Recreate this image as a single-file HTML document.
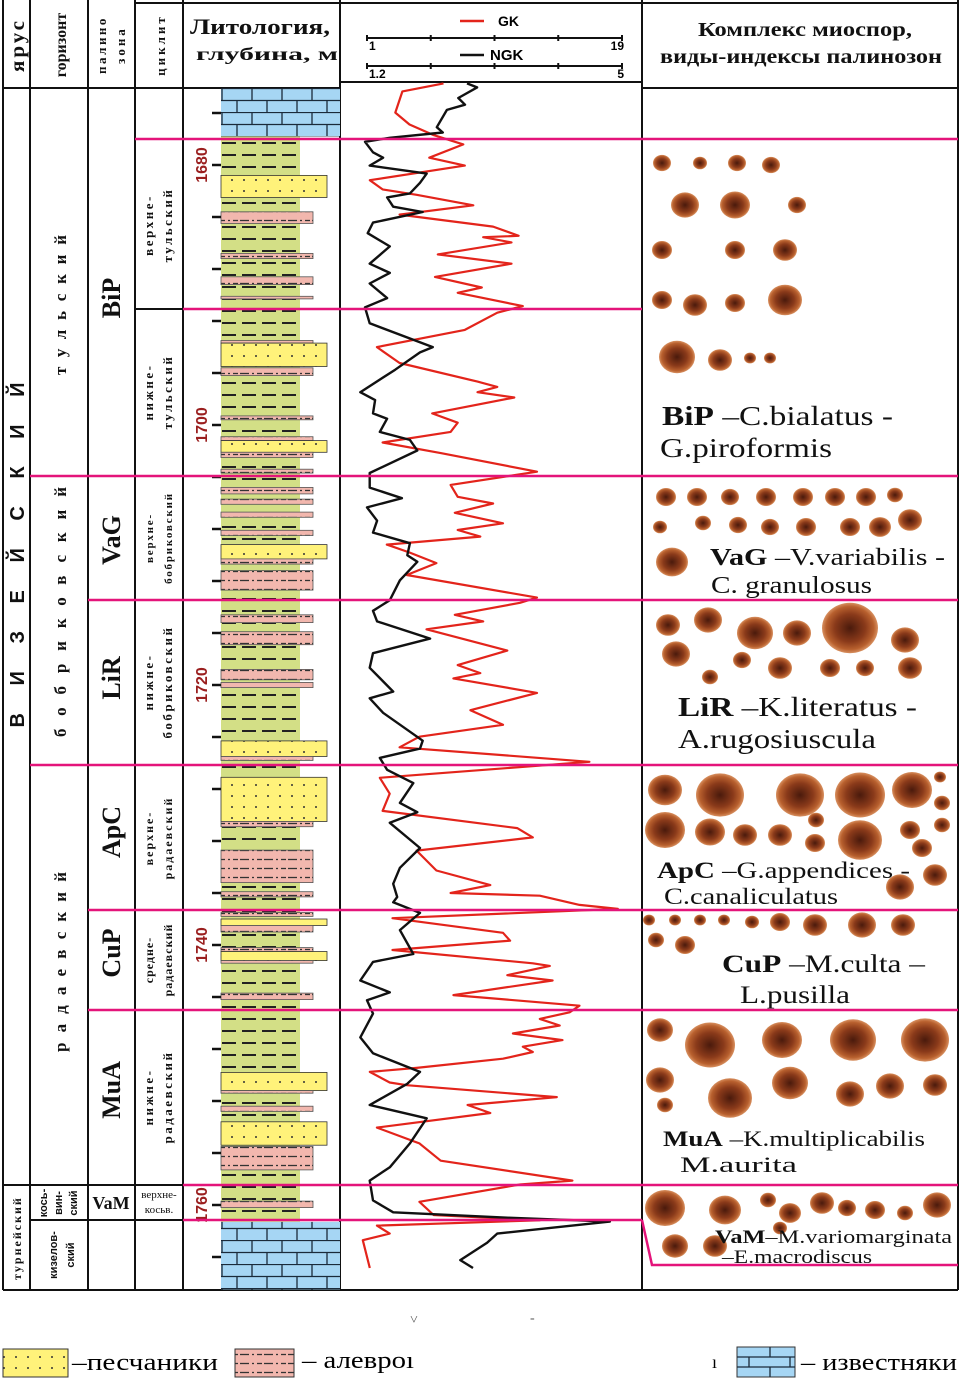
<!DOCTYPE html>
<html><head><meta charset="utf-8"><style>
html,body{margin:0;padding:0;background:#fff;}
svg{display:block;font-family:"Liberation Serif","DejaVu Serif",serif;}
.sans{font-family:"Liberation Sans","DejaVu Sans",sans-serif;}
</style></head><body>
<svg id="chart" width="960" height="1380" viewBox="0 0 960 1380" xmlns="http://www.w3.org/2000/svg">
<defs>
<pattern id="pShale" width="20" height="12" patternUnits="userSpaceOnUse" x="221" y="137">
<rect width="20" height="12" fill="#d3df86"/>
<line x1="1" y1="6" x2="15" y2="6" stroke="#222" stroke-width="2"/>
</pattern>
<pattern id="pSand" width="12" height="11" patternUnits="userSpaceOnUse">
<rect width="12" height="11" fill="#fff27a"/>
<circle cx="4" cy="4" r="1" fill="#333"/>
</pattern>
<pattern id="pSilt" width="24" height="9" patternUnits="userSpaceOnUse">
<rect width="24" height="9" fill="#f2b7ae"/>
<line x1="0" y1="4.5" x2="9" y2="4.5" stroke="#333" stroke-width="1.3"/>
<line x1="12" y1="4.5" x2="14" y2="4.5" stroke="#333" stroke-width="1.3"/>
<line x1="17" y1="4.5" x2="22" y2="4.5" stroke="#333" stroke-width="1.3"/>
</pattern>
<pattern id="pLime" width="60" height="24" patternUnits="userSpaceOnUse" x="221" y="88">
<rect width="60" height="24" fill="#a6d6f4"/>
<line x1="0" y1="0.5" x2="60" y2="0.5" stroke="#1a2a3a" stroke-width="1.3"/>
<line x1="0" y1="12.5" x2="60" y2="12.5" stroke="#1a2a3a" stroke-width="1.3"/>
<line x1="1" y1="0" x2="1" y2="12" stroke="#1a2a3a" stroke-width="1.3"/>
<line x1="31" y1="0" x2="31" y2="12" stroke="#1a2a3a" stroke-width="1.3"/>
<line x1="16" y1="12" x2="16" y2="24" stroke="#1a2a3a" stroke-width="1.3"/>
<line x1="46" y1="12" x2="46" y2="24" stroke="#1a2a3a" stroke-width="1.3"/>
</pattern>
<radialGradient id="gSpore" cx="50%" cy="50%" r="50%">
<stop offset="0" stop-color="#4a1a0c"/>
<stop offset="0.55" stop-color="#8a3a1a"/>
<stop offset="0.85" stop-color="#b8602e"/>
<stop offset="1" stop-color="#d89060"/>
</radialGradient>
</defs>

<g id="grid" stroke="#111" stroke-width="2" fill="none">
<line x1="3" y1="0" x2="3" y2="1290"/>
<line x1="30" y1="0" x2="30" y2="1290"/>
<line x1="88" y1="0" x2="88" y2="1290"/>
<line x1="135" y1="0" x2="135" y2="1290"/>
<line x1="183" y1="0" x2="183" y2="1290"/>
<line x1="340" y1="0" x2="340" y2="1290"/>
<line x1="642" y1="0" x2="642" y2="1290"/>
<line x1="958" y1="0" x2="958" y2="1290"/>
<line x1="135" y1="3" x2="958" y2="3"/>
<line x1="3" y1="88" x2="340" y2="88"/>
<line x1="340" y1="82" x2="642" y2="82"/>
<line x1="642" y1="88" x2="958" y2="88"/>
<line x1="3" y1="1290" x2="958" y2="1290"/>
<line x1="30" y1="476" x2="88" y2="476"/>
<line x1="30" y1="765" x2="88" y2="765"/>
<line x1="88" y1="600" x2="135" y2="600"/>
<line x1="88" y1="910" x2="135" y2="910"/>
<line x1="88" y1="1010" x2="135" y2="1010"/>
<line x1="135" y1="139" x2="183" y2="139"/>
<line x1="135" y1="309" x2="183" y2="309"/>
<line x1="135" y1="476" x2="183" y2="476"/>
<line x1="135" y1="600" x2="183" y2="600"/>
<line x1="135" y1="765" x2="183" y2="765"/>
<line x1="135" y1="910" x2="183" y2="910"/>
<line x1="135" y1="1010" x2="183" y2="1010"/>
<line x1="3" y1="1185" x2="183" y2="1185"/>
<line x1="30" y1="1220" x2="183" y2="1220"/>
<line x1="88" y1="476" x2="135" y2="476"/>
<line x1="88" y1="765" x2="135" y2="765"/>
</g>

<g font-weight="bold" fill="#111">
<text x="24" y="45" font-size="21" text-anchor="middle" transform="rotate(-90 24 45)" letter-spacing="3">ярус</text>
<text x="66" y="45" font-size="16" text-anchor="middle" transform="rotate(-90 66 45)">горизонт</text>
<text x="106" y="45" font-size="13" text-anchor="middle" transform="rotate(-90 106 45)" letter-spacing="2.5">палино</text>
<text x="125" y="45" font-size="13" text-anchor="middle" transform="rotate(-90 125 45)" letter-spacing="3">зона</text>
<text x="165" y="45" font-size="13" text-anchor="middle" transform="rotate(-90 165 45)" letter-spacing="3">циклит</text>
<text x="190" y="34" font-size="22" textLength="140" lengthAdjust="spacingAndGlyphs">Литология,</text>
<text x="196" y="60" font-size="18" textLength="142" lengthAdjust="spacingAndGlyphs">глубина, м</text>
<text x="698" y="36" font-size="20" textLength="214" lengthAdjust="spacingAndGlyphs">Комплекс миоспор,</text>
<text x="660" y="63" font-size="20" textLength="282" lengthAdjust="spacingAndGlyphs">виды-индексы палинозон</text>
</g>

<g>
<line x1="460" y1="21" x2="484" y2="21" stroke="#e3241b" stroke-width="2.5"/>
<text class="sans" x="498" y="26" font-size="14" font-weight="bold">GK</text>
<line x1="460" y1="55" x2="484" y2="55" stroke="#111" stroke-width="2.5"/>
<text class="sans" x="490" y="60" font-size="15" font-weight="bold">NGK</text>
<g id="gkAxis"></g>
<g id="ngkAxis"></g>
</g>

<g id="litho"></g>
<g id="depthAxis"></g>
<g id="curves"></g>
<g id="spores"></g>

<g stroke="#e4147a" stroke-width="2.5" fill="none">
<line x1="135" y1="139" x2="958" y2="139"/>
<line x1="183" y1="309" x2="642" y2="309"/>
<line x1="30" y1="476" x2="958" y2="476"/>
<line x1="88" y1="600" x2="958" y2="600"/>
<line x1="30" y1="765" x2="958" y2="765"/>
<line x1="88" y1="910" x2="958" y2="910"/>
<line x1="88" y1="1010" x2="958" y2="1010"/>
<line x1="183" y1="1185" x2="958" y2="1185"/>
<line x1="183" y1="1220" x2="642" y2="1220"/>
<polyline points="642,1220 652,1265 958,1265"/>
</g>

<g font-weight="bold" fill="#111">
<text class="sans" x="24" y="555" font-size="20" text-anchor="middle" transform="rotate(-90 24 555)" textLength="345" lengthAdjust="spacing">ВИЗЕЙСКИЙ</text>
<text x="21" y="1238" font-size="12" text-anchor="middle" transform="rotate(-90 21 1238)" letter-spacing="2">турнейский</text>
<text x="66" y="305" font-size="17" text-anchor="middle" transform="rotate(-90 66 305)" textLength="140" lengthAdjust="spacing">тульский</text>
<text x="66" y="612" font-size="17" text-anchor="middle" transform="rotate(-90 66 612)" textLength="250" lengthAdjust="spacing">бобриковский</text>
<text x="66" y="962" font-size="17" text-anchor="middle" transform="rotate(-90 66 962)" textLength="180" lengthAdjust="spacing">радаевский</text>
<g class="sans" font-size="11" text-anchor="middle">
<text transform="rotate(-90 47 1203)" x="47" y="1203">кось-</text>
<text transform="rotate(-90 62 1203)" x="62" y="1203">вин-</text>
<text transform="rotate(-90 77 1203)" x="77" y="1203">ский</text>
<text transform="rotate(-90 57 1255)" x="57" y="1255">кизелов-</text>
<text transform="rotate(-90 74 1255)" x="74" y="1255">ский</text>
</g>
</g>

<g font-weight="bold" font-size="26" fill="#111" text-anchor="middle">
<text x="120" y="298" transform="rotate(-90 120 298)">BiP</text>
<text x="120" y="540" transform="rotate(-90 120 540)">VaG</text>
<text x="120" y="678" transform="rotate(-90 120 678)">LiR</text>
<text x="120" y="832" transform="rotate(-90 120 832)">ApC</text>
<text x="120" y="953" transform="rotate(-90 120 953)">CuP</text>
<text x="120" y="1090" transform="rotate(-90 120 1090)">MuA</text>
<text x="111" y="1209" font-size="18">VaM</text>
</g>

<g font-weight="bold" font-size="13" fill="#111" text-anchor="middle" letter-spacing="2.5">
<text x="153" y="225" transform="rotate(-90 153 225)">верхне-</text>
<text x="172" y="225" transform="rotate(-90 172 225)">тульский</text>
<text x="153" y="392" transform="rotate(-90 153 392)">нижне-</text>
<text x="172" y="392" transform="rotate(-90 172 392)">тульский</text>
<g font-size="11" letter-spacing="1.8">
<text x="153" y="538" transform="rotate(-90 153 538)">верхне-</text>
<text x="172" y="538" transform="rotate(-90 172 538)">бобриковский</text>
</g>
<text x="153" y="682" transform="rotate(-90 153 682)">нижне-</text>
<text x="172" y="682" transform="rotate(-90 172 682)">бобриковский</text>
<g font-size="12" letter-spacing="2">
<text x="153" y="838" transform="rotate(-90 153 838)">верхне-</text>
<text x="172" y="838" transform="rotate(-90 172 838)">радаевский</text>
<text x="153" y="960" transform="rotate(-90 153 960)" letter-spacing="1">средне-</text>
<text x="172" y="960" transform="rotate(-90 172 960)" letter-spacing="1">радаевский</text>
</g>
<text x="153" y="1097" transform="rotate(-90 153 1097)">нижне-</text>
<text x="172" y="1097" transform="rotate(-90 172 1097)">радаевский</text>
<g font-size="11" letter-spacing="0" font-weight="normal">
<text x="159" y="1198">верхне-</text>
<text x="159" y="1213">косьв.</text>
</g>
</g>

<g fill="#111">
<text x="662" y="425" font-size="27" textLength="231" lengthAdjust="spacingAndGlyphs"><tspan font-weight="bold">BiP</tspan> –C.bialatus -</text>
<text x="660" y="457" font-size="27" textLength="172" lengthAdjust="spacingAndGlyphs">G.piroformis</text>
<text x="710" y="565" font-size="24" textLength="235" lengthAdjust="spacingAndGlyphs"><tspan font-weight="bold">VaG</tspan> –V.variabilis -</text>
<text x="711" y="593" font-size="24" textLength="161" lengthAdjust="spacingAndGlyphs">C. granulosus</text>
<text x="678" y="716" font-size="27" textLength="239" lengthAdjust="spacingAndGlyphs"><tspan font-weight="bold">LiR</tspan> –K.literatus -</text>
<text x="678" y="748" font-size="27" textLength="198" lengthAdjust="spacingAndGlyphs">A.rugosiuscula</text>
<text x="657" y="878" font-size="23" textLength="253" lengthAdjust="spacingAndGlyphs"><tspan font-weight="bold">ApC</tspan> –G.appendices -</text>
<text x="664" y="904" font-size="23" textLength="174" lengthAdjust="spacingAndGlyphs">C.canaliculatus</text>
<text x="722" y="972" font-size="25" textLength="203" lengthAdjust="spacingAndGlyphs"><tspan font-weight="bold">CuP</tspan> –M.culta –</text>
<text x="740" y="1003" font-size="25" textLength="110" lengthAdjust="spacingAndGlyphs">L.pusilla</text>
<text x="663" y="1146" font-size="22" textLength="262" lengthAdjust="spacingAndGlyphs"><tspan font-weight="bold">MuA</tspan> –K.multiplicabilis</text>
<text x="680" y="1172" font-size="22" textLength="117" lengthAdjust="spacingAndGlyphs">M.aurita</text>
<text x="715" y="1243" font-size="19" textLength="237" lengthAdjust="spacingAndGlyphs"><tspan font-weight="bold">VaM</tspan>–M.variomarginata</text>
<text x="722" y="1263" font-size="19" textLength="150" lengthAdjust="spacingAndGlyphs">–E.macrodiscus</text>
</g>

<g>
<rect x="3" y="1349" width="65" height="28" fill="url(#pSand)" stroke="#333"/>
<text x="72" y="1370" font-size="24" textLength="146" lengthAdjust="spacingAndGlyphs">–песчаники</text>
<rect x="235" y="1349" width="59" height="28" fill="url(#pSilt)" stroke="#333"/>
<text x="302" y="1368" font-size="24" textLength="112" lengthAdjust="spacingAndGlyphs">– алевро<tspan>ı</tspan></text>
<text x="712" y="1368" font-size="18">ı</text>
<rect x="737" y="1347" width="58" height="30" fill="#a6d6f4" stroke="#333"/>
<g stroke="#1a2a3a" stroke-width="1.3">
<line x1="737" y1="1357" x2="795" y2="1357"/><line x1="737" y1="1367" x2="795" y2="1367"/>
<line x1="770" y1="1347" x2="770" y2="1357"/><line x1="749" y1="1357" x2="749" y2="1367"/><line x1="790" y1="1357" x2="790" y2="1367"/><line x1="770" y1="1367" x2="770" y2="1377"/>
</g>
<text x="801" y="1370" font-size="24" textLength="156" lengthAdjust="spacingAndGlyphs">– известняки</text>
<text x="410" y="1324" font-size="14" fill="#555">˅</text>
<text x="530" y="1322" font-size="14" fill="#555">-</text>
</g>

<script>
// ---- data ----
const gkDepth = [1674.6,1675.2,1676.8,1677.7,1678.5,1678.9,1679.2,1680.2,1680.8,1681.9,1682.6,1683.0,1683.8,1684.5,1685.4,1686.1,1686.2,1686.6,1687.5,1688.2,1689.2,1690.0,1690.4,1691.4,1691.9,1693.2,1694.5,1695.7,1697.1,1697.5,1697.9,1698.3,1699.5,1700.2,1700.9,1701.7,1702.5,1703.9,1704.9,1705.8,1706.3,1707.0,1707.8,1708.3,1708.8,1709.4,1710.0,1710.8,1711.7,1713.4,1713.8,1714.7,1715.2,1715.8,1717.4,1718.5,1719.1,1719.5,1720.6,1721.9,1723.0,1723.9,1724.7,1725.8,1727.0,1728.2,1729.5,1730.8,1731.5,1732.5,1734.0,1735.1,1735.7,1735.9,1736.6,1736.9,1737.6,1738.7,1739.3,1740.0,1741.0,1741.2,1741.9,1742.3,1743.4,1744.2,1744.7,1745.2,1745.7,1746.3,1746.8,1747.3,1747.7,1748.2,1748.9,1749.2,1750.0,1750.2,1751.1,1751.7,1752.3,1753.4,1754.6,1755.9,1757.4,1757.7,1759.0,1760.0,1760.4,1760.8,1761.4,1761.9,1764.0];
const gkValues = [6.4,3.5,3.0,4.0,5.7,6.9,7.8,5.4,7.9,1.2,2.1,4.5,8.5,3.3,9.9,11.7,9.2,11.2,6.0,11.2,5.8,9.1,7.4,12.0,10.2,7.9,1.7,3.3,8.8,10.2,8.8,11.4,5.6,7.4,6.9,2.1,6.2,13.0,6.9,7.4,9.9,7.2,10.6,7.4,9.0,2.4,4.0,5.9,3.8,13.0,11.8,7.2,9.2,5.2,10.9,7.4,9.0,7.1,13.0,8.3,10.6,4.7,3.3,16.7,1.9,2.6,2.1,11.6,12.7,4.5,5.9,9.7,6.9,13.2,16.0,18.7,2.8,10.6,11.1,2.8,12.7,13.9,10.9,14.1,7.1,16.0,15.3,13.2,14.6,11.3,14.8,12.0,12.7,10.6,4.5,1.2,2.6,3.8,14.4,8.1,9.7,1.7,4.7,6.2,15.5,11.8,4.7,5.7,13.2,1.7,2.6,0.7,1.2];
const ngkDepth = [1674.6,1674.9,1675.7,1676.2,1676.6,1677.9,1678.3,1678.7,1679.0,1679.8,1680.2,1680.8,1681.4,1682.1,1682.9,1683.2,1683.9,1684.3,1685.1,1685.9,1686.9,1688.2,1688.9,1689.7,1690.8,1691.5,1692.7,1694.5,1694.9,1696.2,1697.9,1698.5,1699.5,1699.9,1700.9,1701.5,1702.3,1704.0,1705.1,1705.9,1706.6,1707.6,1708.5,1709.3,1710.2,1710.7,1712.1,1713.6,1714.4,1715.2,1716.5,1717.6,1718.7,1720.5,1721.0,1722.1,1724.2,1724.8,1725.5,1726.4,1727.4,1728.9,1729.6,1730.4,1732.3,1733.8,1735.0,1736.0,1736.4,1737.2,1738.5,1740.3,1740.9,1742.3,1743.2,1743.8,1744.8,1746.6,1747.8,1749.2,1750.1,1751.7,1752.7,1754.6,1756.4,1757.4,1758.9,1759.8,1760.2,1760.5,1761.4,1762.1,1763.4,1764.0];
const ngkValues = [2.69,2.84,2.56,2.66,2.39,2.24,2.33,1.54,1.17,1.29,1.44,1.24,2.09,1.99,1.84,1.50,1.59,2.03,1.29,1.21,1.54,1.24,1.54,1.24,1.50,1.17,1.24,2.18,1.99,1.62,1.10,1.32,1.29,1.50,1.39,1.84,1.95,1.24,1.24,1.72,1.20,1.35,1.29,1.84,1.80,1.95,1.69,1.54,1.29,1.35,2.14,1.29,1.24,1.59,1.24,1.44,2.03,1.99,1.39,1.50,1.89,1.69,1.95,1.54,1.99,1.69,1.59,1.65,1.59,1.99,1.69,1.89,1.29,1.10,1.54,1.20,1.29,1.10,1.29,1.99,1.80,1.24,2.09,1.84,1.54,1.24,1.29,1.59,3.29,4.82,3.14,2.99,2.59,2.78];
const gkTicks = [1,19];
const ngkTicks = [1.2,5];
const depthLabels = [1680,1700,1720,1740,1760];
const layerType = ['lime','sand','silt','silt','silt','silt','silt','sand','silt','silt','silt','sand','silt','silt','silt','silt','silt','silt','sand','silt','silt','silt','silt','silt','silt','sand','silt','sand','silt','silt','silt','silt','sand','silt','silt','sand','silt','silt','sand','silt','silt','sand','silt','silt','lime'];
const layerTop = [1674.1,1680.8,1683.6,1686.8,1688.6,1690.1,1693.5,1693.7,1695.6,1699.3,1700.9,1701.2,1702.1,1703.4,1704.8,1705.7,1706.7,1708.1,1709.2,1710.3,1711.2,1714.6,1715.9,1718.8,1719.8,1724.3,1725.5,1727.1,1730.5,1732.7,1735.9,1737.5,1738.0,1738.5,1740.2,1740.5,1741.2,1743.7,1749.8,1751.2,1752.4,1753.6,1755.5,1759.7,1761.3];
const layerBottom = [1677.8,1682.5,1684.5,1687.2,1689.2,1690.3,1693.7,1695.5,1696.2,1699.6,1701.2,1702.1,1702.5,1703.7,1705.3,1706.1,1707.1,1708.5,1710.3,1710.7,1712.7,1715.2,1716.9,1719.6,1720.2,1725.5,1725.8,1730.5,1730.9,1735.2,1736.3,1737.8,1738.5,1739.0,1740.5,1741.2,1741.4,1744.2,1751.2,1751.4,1752.8,1755.4,1757.3,1760.2,1766.5];

// ---- scales ----
const NS = 'http://www.w3.org/2000/svg';
const logY = d => 155 + (d - 1680) * 13.25;
const depthY = d => 165 + (d - 1680) * 13;
const gkX = v => 367 + (v - 1) / 18 * 255;
const ngkX = v => 367 + (v - 1.2) / 3.8 * 255;
function mk(tag, attrs, parent) {
  const e = document.createElementNS(NS, tag);
  for (const k in attrs) e.setAttribute(k, attrs[k]);
  parent.appendChild(e);
  return e;
}

function drawAxis(g, y, ticks, sx) {
  const l = mk('line', {x1: sx(ticks[0]), y1: y, x2: sx(ticks[1]), y2: y, stroke: '#111', 'stroke-width': 2}, g);
  
  
  const span = ticks[1] - ticks[0];
  for (let i = 0; i <= 4; i++) {
    const x = sx(ticks[0] + span * i / 4);
    const t = mk('line', {x1: x, y1: y - 3, x2: x, y2: y + 3, stroke: '#111', 'stroke-width': 2}, g);
    
    
  }
  ticks.forEach((v, i) => {
    const tx = mk('text', {x: sx(v) + 2, y: y + 12, 'font-size': 12, 'text-anchor': i ? 'end' : 'start', 'class': 'sans', 'font-weight': 'bold'}, g);
    tx.textContent = String(v);
    
    
  });
}
drawAxis(document.getElementById('gkAxis'), 38, gkTicks, gkX);
drawAxis(document.getElementById('ngkAxis'), 66, ngkTicks, ngkX);

const litho = document.getElementById('litho');
const shale = mk('rect', {x: 221, y: depthY(1677.8), width: 79, height: depthY(1761.3) - depthY(1677.8), fill: 'url(#pShale)'}, litho);


layerType.forEach((t, i) => {
  const y1 = depthY(layerTop[i]), y2 = depthY(layerBottom[i]);
  let attrs;
  if (t === 'lime') attrs = {x: 221, y: y1, width: 119, height: y2 - y1, fill: 'url(#pLime)'};
  else if (t === 'sand') attrs = {x: 221, y: y1, width: 106, height: y2 - y1, fill: 'url(#pSand)', stroke: '#333', 'stroke-width': 0.8};
  else attrs = {x: 221, y: y1, width: 92, height: y2 - y1, fill: 'url(#pSilt)', stroke: '#555', 'stroke-width': 0.8};
  const r = mk('rect', attrs, litho);
  
  
});

const da = document.getElementById('depthAxis');
for (let d = 1676; d <= 1764; d += 4) {
  const t = mk('line', {x1: 212, y1: depthY(d), x2: 221, y2: depthY(d), stroke: '#111', 'stroke-width': 2.5}, da);
  
  
}
depthLabels.forEach(d => {
  const y = depthY(d);
  const t = mk('text', {x: 207, y: y, 'font-size': 16, 'font-weight': 'bold', fill: '#9a1f1f', 'text-anchor': 'middle', 'class': 'sans', transform: 'rotate(-90 207 ' + y + ')'}, da);
  t.textContent = String(d);
  
  
});

const cg = document.getElementById('curves');
const gkPts = gkDepth.map((d, i) => gkX(gkValues[i]).toFixed(1) + ',' + logY(d).toFixed(1)).join(' ');
const gkLine = mk('polyline', {points: gkPts, fill: 'none', stroke: '#e3241b', 'stroke-width': 2.2, 'stroke-linejoin': 'round'}, cg);


const ngkPts = ngkDepth.map((d, i) => ngkX(ngkValues[i]).toFixed(1) + ',' + logY(d).toFixed(1)).join(' ');
const ngkLine = mk('polyline', {points: ngkPts, fill: 'none', stroke: '#111', 'stroke-width': 2.4, 'stroke-linejoin': 'round'}, cg);



const sporeSpots = [[662,163,9],[700,163,7],[737,163,9],[771,165,9],[685,205,14],[735,205,15],[797,205,9],[662,250,10],[735,250,10],[785,250,12],[662,300,10],[695,305,12],[735,303,10],[785,300,17],[677,357,18],[720,360,12],[750,358,6],[770,358,6],
[666,497,10],[697,497,10],[730,497,9],[766,497,10],[803,497,10],[835,497,10],[866,497,10],[895,495,8],[660,527,7],[703,523,8],[738,525,9],[770,527,9],[806,527,10],[850,527,10],[880,527,11],[910,520,12],[672,562,16],
[668,625,12],[708,620,14],[755,633,18],[797,633,14],[850,628,28],[905,640,14],[676,654,14],[742,660,9],[780,668,12],[830,668,10],[865,668,9],[910,668,12],[710,677,8],
[665,790,17],[720,795,24],[800,795,24],[860,795,25],[912,790,20],[940,777,6],[665,830,20],[710,832,15],[745,835,12],[780,835,12],[816,820,8],[815,843,10],[860,840,22],[910,830,10],[942,803,8],[942,825,8],[922,848,10],[935,875,12],[900,887,14],
[649,920,6],[675,920,6],[700,920,6],[724,920,6],[752,922,7],[780,922,10],[815,925,12],[862,925,14],[903,925,12],[656,940,8],[685,945,10],
[660,1030,13],[710,1045,25],[782,1040,20],[853,1040,23],[925,1040,24],[660,1080,14],[730,1098,22],[790,1083,18],[850,1094,14],[890,1086,14],[935,1085,12],[665,1105,8],
[665,1208,20],[725,1210,16],[768,1200,8],[790,1213,11],[822,1203,12],[847,1208,9],[875,1210,10],[905,1213,8],[937,1205,14],[780,1228,7],[675,1246,13],[715,1246,12]];
const sg = document.getElementById('spores');
sporeSpots.forEach(s => {
  const e = mk('ellipse', {cx: s[0], cy: s[1], rx: s[2], ry: s[2] * 0.9, fill: 'url(#gSpore)'}, sg);
  
  
});
</script>
</svg>
</body></html>
